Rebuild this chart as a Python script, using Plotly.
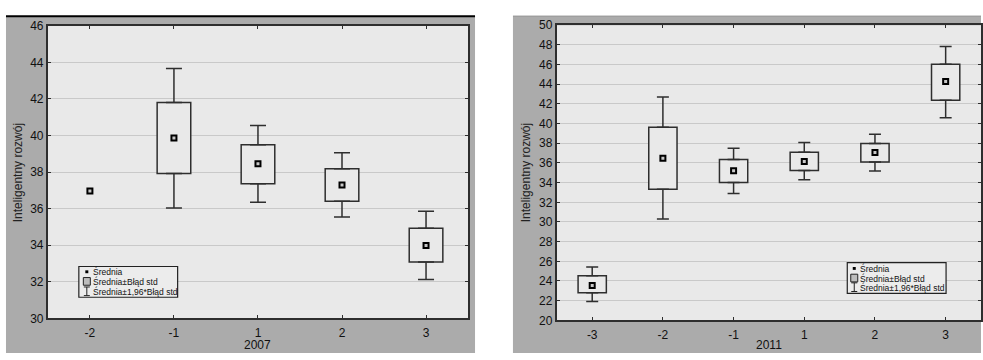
import plotly.graph_objects as go

# ---------------- data ----------------
cats_2007 = ["-2", "-1", "1", "2", "3"]
mean_2007 = [36.96, 39.86, 38.45, 37.29, 33.99]
se_lo_2007 = [None, 37.92, 37.36, 36.40, 33.08]
se_hi_2007 = [None, 41.80, 39.50, 38.18, 34.93]
ci_lo_2007 = [None, 36.03, 36.35, 35.54, 32.13]
ci_hi_2007 = [None, 43.66, 40.54, 39.06, 35.86]

cats_2011 = ["-3", "-2", "-1", "1", "2", "3"]
mean_2011 = [23.55, 36.48, 35.21, 36.16, 37.07, 44.27]
se_lo_2011 = [22.80, 33.32, 34.01, 35.24, 36.09, 42.38]
se_hi_2011 = [24.53, 39.64, 36.35, 37.10, 37.98, 46.03]
ci_lo_2011 = [21.92, 30.29, 32.90, 34.30, 35.18, 40.59]
ci_hi_2011 = [25.41, 42.70, 37.49, 38.08, 38.93, 47.85]

y_title = "Inteligentny rozwój"
legend_labels = ["Średnia", "Średnia±Błąd std", "Średnia±1,96*Błąd std"]

W, H = 983, 360
FONT = "Liberation Sans Narrow, Liberation Sans, Arial, sans-serif"
LINE = "#2e2e2e"
PLOT_BG = "#e9e9e9"
PANEL = "#ababab"
GRID = "#c9c9c9"


def px(x):
    return x / W


def py(y):
    return 1 - y / H


fig = go.Figure()


def add_panel(cats, mean, lo, hi, clo, chi, xref, yref, capw):
    heights = [None if (h is None or l is None) else h - l for h, l in zip(hi, lo)]
    up = [None if (c is None or h is None) else c - h for c, h in zip(chi, hi)]
    dn = [None if (c is None or l is None) else l - c for c, l in zip(clo, lo)]
    zeros = [0] * len(cats)
    fig.add_trace(go.Bar(x=cats, y=heights, base=lo, width=0.4,
                         marker=dict(color=PLOT_BG, line=dict(color=LINE, width=1.5)),
                         xaxis=xref, yaxis=yref, showlegend=False, hoverinfo="skip"))
    fig.add_trace(go.Scatter(x=cats, y=hi, mode="markers",
                             marker=dict(size=1, color="rgba(0,0,0,0)"),
                             error_y=dict(type="data", symmetric=False, array=up, arrayminus=zeros,
                                          width=capw, thickness=1.5, color=LINE),
                             xaxis=xref, yaxis=yref, showlegend=False, hoverinfo="skip"))
    fig.add_trace(go.Scatter(x=cats, y=lo, mode="markers",
                             marker=dict(size=1, color="rgba(0,0,0,0)"),
                             error_y=dict(type="data", symmetric=False, array=zeros, arrayminus=dn,
                                          width=capw, thickness=1.5, color=LINE),
                             xaxis=xref, yaxis=yref, showlegend=False, hoverinfo="skip"))
    fig.add_trace(go.Scatter(x=cats, y=mean, mode="markers",
                             marker=dict(symbol="square", size=5, color="#c8c8c8",
                                         line=dict(color="#000", width=2)),
                             xaxis=xref, yaxis=yref, showlegend=False))


add_panel(cats_2007, mean_2007, se_lo_2007, se_hi_2007, ci_lo_2007, ci_hi_2007, "x", "y", 8)
add_panel(cats_2011, mean_2011, se_lo_2011, se_hi_2011, ci_lo_2011, ci_hi_2011, "x2", "y2", 6)

axis_common = dict(showline=True, linecolor=LINE, linewidth=2, mirror="allticks",
                   ticks="inside", ticklen=3, tickcolor=LINE, tickwidth=1,
                   tickfont=dict(family=FONT, size=12, color="#111"), zeroline=False)

fig.update_layout(
    width=W, height=H, margin=dict(l=0, r=0, t=0, b=0),
    paper_bgcolor="white", plot_bgcolor=PLOT_BG,
    showlegend=False,
    xaxis=dict(domain=[px(48), px(469)], type="category", categoryorder="array",
               categoryarray=cats_2007, range=[-0.5, len(cats_2007) - 0.5],
               showgrid=False, anchor="y", ticklabelstandoff=2, **axis_common),
    yaxis=dict(domain=[py(324), py(19.5)], range=[30, 46], dtick=2, showgrid=True,
               gridcolor=GRID, gridwidth=1, anchor="x", **axis_common),
    xaxis2=dict(domain=[px(558), 1.0], type="category", categoryorder="array",
                categoryarray=cats_2011, range=[-0.5, len(cats_2011) - 0.5],
                showgrid=False, anchor="y2", ticklabelstandoff=2, **axis_common),
    yaxis2=dict(domain=[py(326), py(19)], range=[20, 50], dtick=2, showgrid=True,
                gridcolor=GRID, gridwidth=1, anchor="x2", **axis_common),
)

shapes = [
    dict(type="rect", xref="paper", yref="paper", x0=px(6), x1=px(476), y0=0, y1=py(9.5),
         fillcolor=PANEL, line=dict(width=0), layer="below"),
    dict(type="rect", xref="paper", yref="paper", x0=px(514), x1=1, y0=0, y1=py(9.5),
         fillcolor=PANEL, line=dict(width=0), layer="below"),
    dict(type="rect", xref="x domain", yref="y domain", x0=0, x1=1, y0=0, y1=1,
         fillcolor=PLOT_BG, line=dict(width=0), layer="below"),
    dict(type="rect", xref="x2 domain", yref="y2 domain", x0=0, x1=1, y0=0, y1=1,
         fillcolor=PLOT_BG, line=dict(width=0), layer="below"),
    dict(type="line", xref="paper", yref="paper", x0=px(6), x1=px(476), y0=py(9.5), y1=py(9.5),
         line=dict(color="#000", width=2), layer="above"),
    dict(type="line", xref="paper", yref="paper", x0=px(514), x1=1, y0=py(9.5), y1=py(9.5),
         line=dict(color="#8a8a8a", width=1), layer="above"),
]

annotations = [
    dict(text=y_title, xref="paper", yref="paper", x=px(18), y=py(172), textangle=-90,
         showarrow=False, font=dict(family=FONT, size=12, color="#222"), xanchor="center", yanchor="middle"),
    dict(text=y_title, xref="paper", yref="paper", x=px(527), y=py(172), textangle=-90,
         showarrow=False, font=dict(family=FONT, size=12, color="#222"), xanchor="center", yanchor="middle"),
    dict(text="2007", xref="paper", yref="paper", x=px(258), y=0, showarrow=False, borderpad=0,
         font=dict(family=FONT, size=12, color="#111"), xanchor="center", yanchor="bottom"),
    dict(text="2011", xref="paper", yref="paper", x=px(771), y=0, showarrow=False, borderpad=0,
         font=dict(family=FONT, size=12, color="#111"), xanchor="center", yanchor="bottom"),
]


def add_legend(x0, y0, x1, y1, rows, sx, tx):
    shapes.append(dict(type="rect", xref="paper", yref="paper", x0=px(x0), x1=px(x1),
                       y0=py(y1), y1=py(y0), fillcolor="#ececec",
                       line=dict(color="#222", width=1.2), layer="above"))
    shapes.append(dict(type="rect", xref="paper", yref="paper", x0=px(sx - 1.5), x1=px(sx + 1.5),
                       y0=py(rows[0] + 1.5), y1=py(rows[0] - 1.5), fillcolor="#000",
                       line=dict(width=0), layer="above"))
    shapes.append(dict(type="rect", xref="paper", yref="paper", x0=px(sx - 3.5), x1=px(sx + 3.5),
                       y0=py(rows[1] + 4), y1=py(rows[1] - 4), fillcolor="#bdbdbd",
                       line=dict(color="#222", width=1), layer="above"))
    shapes.append(dict(type="line", xref="paper", yref="paper", x0=px(sx), x1=px(sx),
                       y0=py(rows[2] + 4.5), y1=py(rows[2] - 4.5), line=dict(color="#222", width=1),
                       layer="above"))
    for dy in (-4.5, 4.5):
        shapes.append(dict(type="line", xref="paper", yref="paper", x0=px(sx - 3), x1=px(sx + 3),
                           y0=py(rows[2] + dy), y1=py(rows[2] + dy), line=dict(color="#222", width=1),
                           layer="above"))
    for r, lab in zip(rows, legend_labels):
        annotations.append(dict(text=lab, xref="paper", yref="paper", x=px(tx), y=py(r),
                                showarrow=False, xanchor="left", yanchor="middle",
                                font=dict(family=FONT, size=8.5, color="#111")))


add_legend(79, 270, 178, 302, [275.5, 285.5, 295.8], 87, 91)
add_legend(849, 266, 948, 298, [272, 282, 291.5], 856, 860)

fig.update_layout(shapes=shapes, annotations=annotations)
fig.write_html("out.html", config={"displayModeBar": False},
               post_script="document.body.style.margin='0';document.body.style.overflow='hidden';")
